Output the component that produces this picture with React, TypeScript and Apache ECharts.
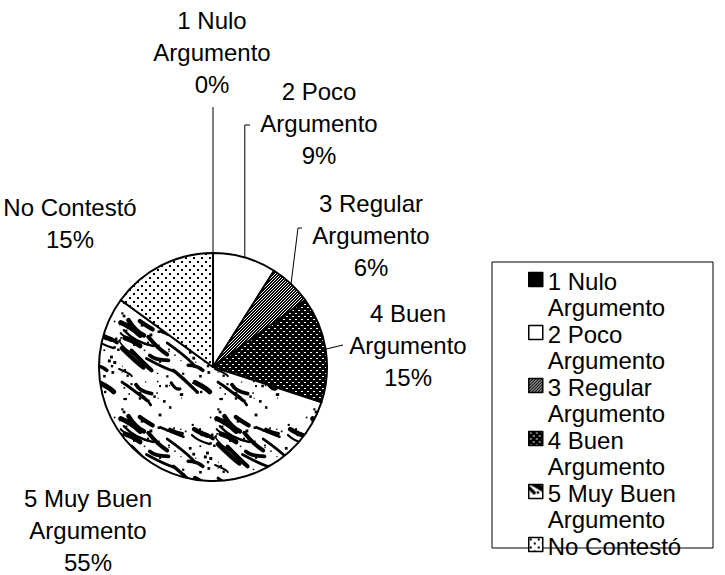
import React, { useEffect, useRef } from 'react';
import * as echarts from 'echarts';

// ---- data ----
const categories = [
  '1 Nulo\nArgumento',
  '2 Poco\nArgumento',
  '3 Regular\nArgumento',
  '4 Buen\nArgumento',
  '5 Muy Buen\nArgumento',
  'No Contestó',
];
const values = [0, 9, 6, 15, 55, 15];

// ---- layout (not data) ----
const FONT = "'Liberation Sans', Arial, Helvetica, sans-serif";
const labelCenters = [
  [212, 52],
  [319, 123],
  [371, 235],
  [408, 345],
  [88, 530],
  [70, 223],
];
// leader line bend/end points (null x = keep anchor x)
const leaderEnds: (Array<[number | null, number]> | null)[] = [
  [[null, 107]],
  [[null, 125], [250, 125]],
  [[298, 228], [302, 228]],
  [[343, 345]],
  null,
  null,
];

type Pat = { image: HTMLCanvasElement; repeat: string; imageWidth: number; imageHeight: number };
function tile(w: number, h: number, draw: (ctx: CanvasRenderingContext2D) => void): Pat {
  const c = document.createElement('canvas');
  c.width = w;
  c.height = h;
  const ctx = c.getContext('2d')!;
  draw(ctx);
  return { image: c, repeat: 'repeat', imageWidth: w, imageHeight: h };
}

function makeFills() {
  const regular = tile(3, 3, (ctx) => {
    ctx.fillStyle = '#000';
    ctx.fillRect(0, 0, 3, 3);
    ctx.fillStyle = '#fff';
    ctx.fillRect(1, 1, 1, 1);
    ctx.fillRect(0, 2, 1, 1);
    ctx.fillRect(2, 0, 1, 1);
  });
  const buen = tile(6, 6, (ctx) => {
    ctx.fillStyle = '#000';
    ctx.fillRect(0, 0, 6, 6);
    ctx.fillStyle = '#fff';
    ctx.fillRect(1, 1, 2, 1);
    ctx.fillRect(4, 4, 2, 1);
  });
  const dots = tile(8, 8, (ctx) => {
    ctx.fillStyle = '#fff';
    ctx.fillRect(0, 0, 8, 8);
    ctx.fillStyle = '#000';
    ctx.fillRect(1, 1, 2, 2);
    ctx.fillRect(5, 5, 2, 2);
  });
  const S = 96;
  const marble = tile(S, S, (ctx) => {
    ctx.fillStyle = '#fff';
    ctx.fillRect(0, 0, S, S);
    let s = 4242;
    const rnd = () => {
      s = (s * 16807) % 2147483647;
      return s / 2147483647;
    };
    ctx.strokeStyle = '#000';
    ctx.fillStyle = '#000';
    ctx.lineCap = 'round';
    const strokes: number[][] = [];
    for (let i = 0; i < 26; i++) {
      const x = rnd() * S, y = rnd() * S;
      const len = 10 + rnd() * 26;
      const ang = ((15 + rnd() * 30) * Math.PI) / 180;
      const w = 1.5 + rnd() * 3.5;
      const bx = (rnd() - 0.5) * 10, by = (rnd() - 0.5) * 10;
      strokes.push([x, y, len, ang, w, bx, by]);
    }
    const specks: number[][] = [];
    for (let i = 0; i < 80; i++) specks.push([rnd() * S, rnd() * S, 1 + rnd() * 2]);
    for (const ox of [-S, 0, S]) {
      for (const oy of [-S, 0, S]) {
        for (const [x, y, len, ang, w, bx, by] of strokes) {
          ctx.lineWidth = w;
          ctx.beginPath();
          const x0 = x + ox, y0 = y + oy;
          const x1 = x0 + Math.cos(ang) * len, y1 = y0 + Math.sin(ang) * len;
          ctx.moveTo(x0, y0);
          ctx.quadraticCurveTo((x0 + x1) / 2 + bx, (y0 + y1) / 2 + by, x1, y1);
          ctx.stroke();
        }
        for (const [x, y, r] of specks) {
          ctx.fillRect(x + ox, y + oy, r, r);
        }
      }
    }
  });
  return ['#000', '#fff', regular, buen, marble, dots];
}

export default function App() {
  const ref = useRef<HTMLDivElement>(null);
  useEffect(() => {
    if (!ref.current) return;
    const chart = echarts.init(ref.current, undefined, { renderer: 'svg' });
    const fills = makeFills();
    const option: any = {
      animation: false,
      backgroundColor: '#fff',
      legend: {
        orient: 'vertical',
        left: 528,
        top: 268,
        width: 200,
        height: 400,
        padding: 0,
        itemGap: 0,
        itemWidth: 14,
        itemHeight: 44,
        icon: 'path://M0,0H14V14H0Z M0,44H0',
        selectedMode: false,
        itemStyle: { borderColor: '#000', borderWidth: 1.5 },
        formatter: (n: string) => (n.includes('\n') ? n : n + '\n '),
        textStyle: { fontSize: 24, lineHeight: 26.5, fontFamily: FONT, color: '#000' },
        data: categories,
      },
      graphic: [
        {
          type: 'rect',
          silent: true,
          shape: { x: 492, y: 262, width: 221, height: 286 },
          style: { fill: 'none', stroke: '#000', lineWidth: 1 },
        },
      ],
      series: [
        {
          type: 'pie',
          center: [213, 367],
          radius: 114,
          startAngle: 90,
          clockwise: true,
          avoidLabelOverlap: false,
          silent: true,
          emphasis: { disabled: true },
          itemStyle: { borderColor: '#000', borderWidth: 2 },
          label: {
            show: true,
            position: 'outside',
            color: '#000',
            fontSize: 24,
            lineHeight: 32,
            fontFamily: FONT,
            formatter: (p: any) => `${p.name}\n${Math.round(p.percent)}%`,
          },
          labelLine: { show: true, length: 10, length2: 5, lineStyle: { color: '#000', width: 1 } },
          labelLayout: (p: any) => {
            const i = p.dataIndex;
            const [x, y] = labelCenters[i];
            const res: any = { x, y, align: 'center', verticalAlign: 'middle' };
            const ends = leaderEnds[i];
            if (ends && p.labelLinePoints) {
              const a = p.labelLinePoints[0];
              const pts: number[][] = [[a[0], a[1]]];
              ends.forEach((e) => pts.push([e[0] == null ? a[0] : e[0], e[1]]));
              while (pts.length < 3) pts.push(pts[pts.length - 1].slice());
              res.labelLinePoints = pts;
            }
            return res;
          },
          data: categories.map((name, i) => ({
            name,
            value: values[i],
            itemStyle: { color: fills[i] },
            labelLine: { show: leaderEnds[i] != null },
          })),
        },
      ],
    };
    chart.setOption(option);
    return () => chart.dispose();
  }, []);
  return (
    <div
      ref={ref}
      style={{ position: 'fixed', left: 0, top: 0, width: 725, height: 575, background: '#fff' }}
    />
  );
}
